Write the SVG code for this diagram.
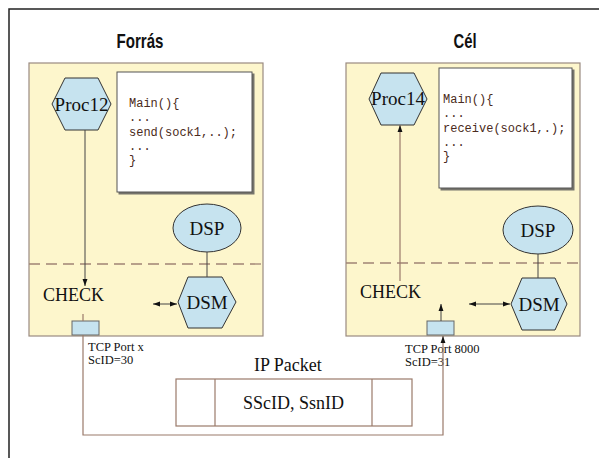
<svg xmlns="http://www.w3.org/2000/svg" width="599" height="458" viewBox="0 0 599 458">
  <defs>
    <marker id="ah" viewBox="0 0 10 10" refX="10" refY="5" markerWidth="7" markerHeight="7" orient="auto-start-reverse" markerUnits="userSpaceOnUse">
      <path d="M0,1.5 L10,5 L0,8.5 Z" fill="#111"/>
    </marker>
    <filter id="shadow" x="-5%" y="-5%" width="115%" height="115%">
      <feDropShadow dx="2" dy="2" stdDeviation="0.6" flood-color="#555" flood-opacity="0.8"/>
    </filter>
  </defs>
  <style>
    .frame { fill: none; stroke: #222; stroke-width: 1.5; }
    .host { fill: #fdf6cc; stroke: #9a8a80; stroke-width: 1.2; }
    .code { fill: #fff; stroke: #555; stroke-width: 1; filter: url(#shadow); }
    .proc { fill: #c6e3ef; stroke: #333; stroke-width: 1; }
    .port { fill: #c6e3ef; stroke: #666; stroke-width: 1; }
    .sep { fill: none; stroke: #a08474; stroke-width: 1.3; stroke-dasharray: 11 6; }
    .wire { fill: none; stroke: #444; stroke-width: 1; }
    .wire2 { fill: none; stroke: #9a7a6a; stroke-width: 1.2; }
    .pkt { fill: #fff; stroke: #9a7a6a; stroke-width: 1.2; }
    .title { font-family: "Liberation Sans", Arial, sans-serif; font-weight: bold; font-size: 21px; fill: #111; text-anchor: middle; }
    .serif { font-family: "Liberation Serif", "Times New Roman", serif; fill: #111; }
    .mono { font-family: "Liberation Mono", "Courier New", monospace; font-size: 12px; fill: #4a2a20; }
  </style>

  <!-- page frame (top and left edges) -->
  <path class="frame" d="M9,458 L9,9 L599,9"/>

  <!-- source host -->
  <g id="source-host">
    <text class="title" x="140" y="48" textLength="47" lengthAdjust="spacingAndGlyphs">Forrás</text>
    <rect class="host" x="29" y="63" width="234" height="273"/>
    <line class="sep" x1="29" y1="264" x2="263" y2="264"/>
  </g>

  <!-- destination host -->
  <g id="dest-host">
    <text class="title" x="465" y="48" textLength="23" lengthAdjust="spacingAndGlyphs">Cél</text>
    <rect class="host" x="346" y="63" width="234" height="273"/>
    <line class="sep" x1="346" y1="263" x2="580" y2="263"/>
  </g>

  <g id="code-send">
    <rect class="code" x="117" y="72" width="135" height="120"/>
    <text class="mono" x="129" y="107">Main(){</text>
    <text class="mono" x="129" y="121">...</text>
    <text class="mono" x="129" y="136">send(sock1,..);</text>
    <text class="mono" x="129" y="150">...</text>
    <text class="mono" x="129" y="164">}</text>
  </g>

  <g id="code-receive">
    <rect class="code" x="439" y="68" width="133" height="120"/>
    <text class="mono" x="443" y="103">Main(){</text>
    <text class="mono" x="443" y="117">...</text>
    <text class="mono" x="443" y="132">receive(sock1,.);</text>
    <text class="mono" x="443" y="146">...</text>
    <text class="mono" x="443" y="160">}</text>
  </g>

  <g id="proc12">
    <polygon class="proc" points="52,104 65,78 98,78 111,104 98,130 65,130"/>
    <text class="serif" x="81.5" y="111" font-size="19" text-anchor="middle">Proc12</text>
  </g>

  <g id="proc14">
    <polygon class="proc" points="369,99 381,73 414,73 427,99 414,125 381,125"/>
    <text class="serif" x="398" y="105" font-size="19" text-anchor="middle">Proc14</text>
  </g>

  <g id="dsp-left">
    <ellipse class="proc" cx="207" cy="228" rx="34" ry="24"/>
    <text class="serif" x="207" y="235" font-size="19" text-anchor="middle">DSP</text>
  </g>

  <g id="dsm-left">
    <polygon class="proc" points="178,302 188,277 222,277 236,302 222,328 188,328"/>
    <text class="serif" x="207" y="309" font-size="19" text-anchor="middle">DSM</text>
  </g>

  <g id="dsp-right">
    <ellipse class="proc" cx="538" cy="230" rx="35" ry="24"/>
    <text class="serif" x="538" y="237" font-size="19" text-anchor="middle">DSP</text>
  </g>

  <g id="dsm-right">
    <polygon class="proc" points="511,304 522,278 555,278 567,304 555,330 522,330"/>
    <text class="serif" x="539" y="311" font-size="19" text-anchor="middle">DSM</text>
  </g>

  <g id="check-left">
    <text class="serif" x="43" y="301" font-size="18">CHECK</text>
  </g>

  <g id="check-right">
    <text class="serif" x="360" y="298" font-size="18">CHECK</text>
  </g>

  <g id="port-x">
    <rect class="port" x="72" y="321" width="27" height="14"/>
    <text class="serif" x="88" y="351" font-size="12.5">TCP Port x</text>
    <text class="serif" x="88" y="364" font-size="12.5">ScID=30</text>
  </g>

  <g id="port-8000">
    <rect class="port" x="427" y="321" width="27" height="14"/>
    <text class="serif" x="405" y="353" font-size="12.5">TCP Port 8000</text>
    <text class="serif" x="405" y="366" font-size="12.5">ScID=31</text>
  </g>

  <g id="ip-packet">
    <text class="serif" x="254" y="371" font-size="18">IP Packet</text>
    <rect class="pkt" x="176" y="379" width="236" height="47"/>
    <line class="pkt" x1="215" y1="379" x2="215" y2="426"/>
    <line class="pkt" x1="372" y1="379" x2="372" y2="426"/>
    <text class="serif" x="293.5" y="409" font-size="18" text-anchor="middle">SScID, SsnID</text>
  </g>

  <!-- connectors -->
  <g id="connectors">
    <line class="wire" x1="85" y1="130" x2="85" y2="286" marker-end="url(#ah)"/>
    <line class="wire2" x1="400" y1="281" x2="400" y2="125" marker-end="url(#ah)"/>
    <line class="wire" x1="207" y1="252" x2="207" y2="277"/>
    <line class="wire" x1="538" y1="254" x2="538" y2="278"/>
    <line class="wire" x1="153" y1="304" x2="177" y2="304" marker-start="url(#ah)" marker-end="url(#ah)"/>
    <line class="wire" x1="469" y1="304" x2="510" y2="304" marker-start="url(#ah)" marker-end="url(#ah)"/>
    <line class="wire2" x1="83" y1="314" x2="83" y2="321"/>
    <line class="wire" x1="441" y1="321" x2="441" y2="304" marker-end="url(#ah)"/>
    <path class="wire2" d="M83,335 L83,435 L443,435 L443,336" marker-end="url(#ah)"/>
  </g>
</svg>
